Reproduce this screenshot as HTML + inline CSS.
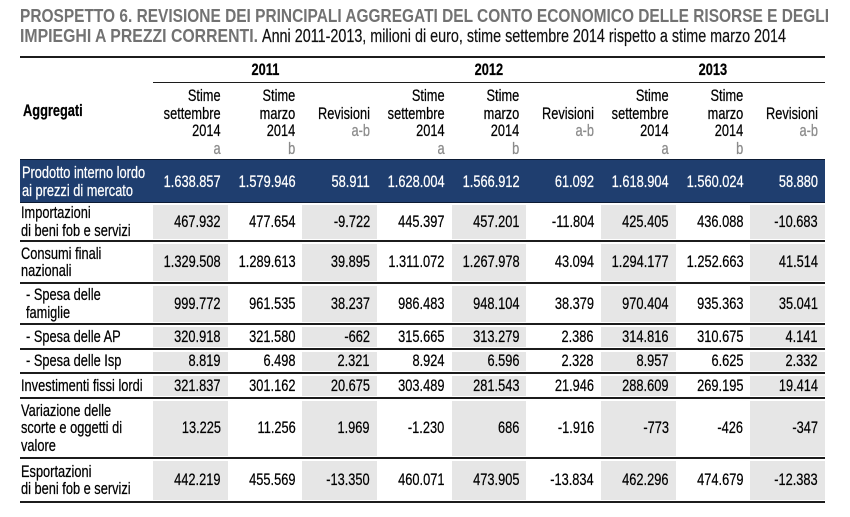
<!DOCTYPE html>
<html><head><meta charset="utf-8">
<style>
*{margin:0;padding:0;box-sizing:border-box}
body{width:850px;height:517px;background:#fff;position:relative;overflow:hidden;font-family:"Liberation Sans",Arial,sans-serif;font-size:17px;line-height:17.5px;color:#000}
.row{position:absolute;left:20px;width:805px;display:flex}
.lab{width:133px;flex:none;display:flex;align-items:center;padding-left:1px}
.sub{padding-left:6px}
.c{width:74.666px;flex:none;display:flex;align-items:center;justify-content:flex-end;padding-right:7px}
i{font-style:normal;display:inline-block;white-space:nowrap;transform:scaleX(.753);transform-origin:right center;text-align:right;-webkit-text-stroke:0.25px currentColor}
.lab i{transform-origin:left center;text-align:left}
.g{background:linear-gradient(#fff 0,#fff 2px,#e6e6e6 2px,#e6e6e6 calc(100% - 1px),#fff calc(100% - 1px))}
.hl{position:absolute;left:20px;width:805px;height:2px;background:#1c1c1c}
.blue{background:#1f3e6f;color:#fff}
.hd .c{align-items:flex-start;line-height:17.7px}
.gr{color:#8a8a8a}
.yr{width:224px;flex:none;display:flex;align-items:center;justify-content:center;font-weight:bold}
.yr i{transform-origin:center center}
</style></head><body>

<svg width="850" height="50" style="position:absolute;left:0;top:0" xmlns="http://www.w3.org/2000/svg">
<text x="20" y="22" font-family="Liberation Sans, Arial, sans-serif" font-weight="bold" font-size="18" fill="#727272" textLength="809" lengthAdjust="spacingAndGlyphs">PROSPETTO 6. REVISIONE DEI PRINCIPALI AGGREGATI DEL CONTO ECONOMICO DELLE RISORSE E DEGLI</text>
<text x="20" y="42" font-family="Liberation Sans, Arial, sans-serif" font-weight="bold" font-size="18" fill="#727272" textLength="238" lengthAdjust="spacingAndGlyphs">IMPIEGHI A PREZZI CORRENTI.</text>
<text x="262" y="42" font-family="Liberation Sans, Arial, sans-serif" font-size="18" fill="#111" stroke="#111" stroke-width="0.2" textLength="524" lengthAdjust="spacingAndGlyphs">Anni 2011-2013, milioni di euro, stime settembre 2014 rispetto a stime marzo 2014</text>
</svg>

<div class="hl" style="top:56px"></div>

<div class="row" style="top:58px;height:24px">
  <div class="lab"></div>
  <div class="yr"><i>2011</i></div>
  <div class="yr"><i>2012</i></div>
  <div class="yr"><i>2013</i></div>
</div>
<div style="position:absolute;left:153px;top:82px;width:672px;height:1px;background:#1c1c1c"></div>

<div style="position:absolute;left:23px;top:102px;font-weight:bold"><i style="transform-origin:left center">Aggregati</i></div>

<div class="row hd" style="top:87px;height:72px">
  <div class="lab"></div>
  <div class="c"><i>Stime<br>settembre<br>2014<br><span class="gr">a</span></i></div>
  <div class="c"><i>Stime<br>marzo<br>2014<br><span class="gr">b</span></i></div>
  <div class="c"><i>&nbsp;<br>Revisioni<br><span class="gr">a-b</span><br>&nbsp;</i></div>
  <div class="c"><i>Stime<br>settembre<br>2014<br><span class="gr">a</span></i></div>
  <div class="c"><i>Stime<br>marzo<br>2014<br><span class="gr">b</span></i></div>
  <div class="c"><i>&nbsp;<br>Revisioni<br><span class="gr">a-b</span><br>&nbsp;</i></div>
  <div class="c"><i>Stime<br>settembre<br>2014<br><span class="gr">a</span></i></div>
  <div class="c"><i>Stime<br>marzo<br>2014<br><span class="gr">b</span></i></div>
  <div class="c"><i>&nbsp;<br>Revisioni<br><span class="gr">a-b</span><br>&nbsp;</i></div>
</div>

<div class="row blue" style="top:160px;height:43px">
  <div class="lab" style="padding-left:2px"><i>Prodotto interno lordo<br>ai prezzi di mercato</i></div>
  <div class="c"><i>1.638.857</i></div>
  <div class="c"><i>1.579.946</i></div>
  <div class="c"><i>58.911</i></div>
  <div class="c"><i>1.628.004</i></div>
  <div class="c"><i>1.566.912</i></div>
  <div class="c"><i>61.092</i></div>
  <div class="c"><i>1.618.904</i></div>
  <div class="c"><i>1.560.024</i></div>
  <div class="c"><i>58.880</i></div>
</div>
<div style="position:absolute;left:20px;top:159px;width:805px;height:1px;background:#0c1a33"></div>
<div style="position:absolute;left:20px;top:202px;width:805px;height:1px;background:#0c1a33"></div>

<div class="row" style="top:203px;height:37px">
  <div class="lab"><i>Importazioni<br>di beni fob e servizi</i></div>
  <div class="c g"><i>467.932</i></div>
  <div class="c"><i>477.654</i></div>
  <div class="c g"><i>-9.722</i></div>
  <div class="c"><i>445.397</i></div>
  <div class="c g"><i>457.201</i></div>
  <div class="c"><i>-11.804</i></div>
  <div class="c g"><i>425.405</i></div>
  <div class="c"><i>436.088</i></div>
  <div class="c g"><i>-10.683</i></div>
</div>
<div class="hl" style="top:240px"></div>

<div class="row" style="top:242px;height:40px">
  <div class="lab"><i>Consumi finali<br>nazionali</i></div>
  <div class="c g"><i>1.329.508</i></div>
  <div class="c"><i>1.289.613</i></div>
  <div class="c g"><i>39.895</i></div>
  <div class="c"><i>1.311.072</i></div>
  <div class="c g"><i>1.267.978</i></div>
  <div class="c"><i>43.094</i></div>
  <div class="c g"><i>1.294.177</i></div>
  <div class="c"><i>1.252.663</i></div>
  <div class="c g"><i>41.514</i></div>
</div>
<div class="hl" style="top:282px"></div>

<div class="row" style="top:284px;height:39px">
  <div class="lab sub"><i>- Spesa delle<br>famiglie</i></div>
  <div class="c g"><i>999.772</i></div>
  <div class="c"><i>961.535</i></div>
  <div class="c g"><i>38.237</i></div>
  <div class="c"><i>986.483</i></div>
  <div class="c g"><i>948.104</i></div>
  <div class="c"><i>38.379</i></div>
  <div class="c g"><i>970.404</i></div>
  <div class="c"><i>935.363</i></div>
  <div class="c g"><i>35.041</i></div>
</div>
<div class="hl" style="top:323px"></div>

<div class="row" style="top:325px;height:23px">
  <div class="lab sub"><i>- Spesa delle AP</i></div>
  <div class="c g"><i>320.918</i></div>
  <div class="c"><i>321.580</i></div>
  <div class="c g"><i>-662</i></div>
  <div class="c"><i>315.665</i></div>
  <div class="c g"><i>313.279</i></div>
  <div class="c"><i>2.386</i></div>
  <div class="c g"><i>314.816</i></div>
  <div class="c"><i>310.675</i></div>
  <div class="c g"><i>4.141</i></div>
</div>
<div class="hl" style="top:348px"></div>

<div class="row" style="top:350px;height:22px">
  <div class="lab sub"><i>- Spesa delle Isp</i></div>
  <div class="c g"><i>8.819</i></div>
  <div class="c"><i>6.498</i></div>
  <div class="c g"><i>2.321</i></div>
  <div class="c"><i>8.924</i></div>
  <div class="c g"><i>6.596</i></div>
  <div class="c"><i>2.328</i></div>
  <div class="c g"><i>8.957</i></div>
  <div class="c"><i>6.625</i></div>
  <div class="c g"><i>2.332</i></div>
</div>
<div class="hl" style="top:372px"></div>

<div class="row" style="top:374px;height:23px">
  <div class="lab"><i>Investimenti fissi lordi</i></div>
  <div class="c g"><i>321.837</i></div>
  <div class="c"><i>301.162</i></div>
  <div class="c g"><i>20.675</i></div>
  <div class="c"><i>303.489</i></div>
  <div class="c g"><i>281.543</i></div>
  <div class="c"><i>21.946</i></div>
  <div class="c g"><i>288.609</i></div>
  <div class="c"><i>269.195</i></div>
  <div class="c g"><i>19.414</i></div>
</div>
<div class="hl" style="top:397px"></div>

<div class="row" style="top:399px;height:58px">
  <div class="lab"><i>Variazione delle<br>scorte e oggetti di<br>valore</i></div>
  <div class="c g"><i>13.225</i></div>
  <div class="c"><i>11.256</i></div>
  <div class="c g"><i>1.969</i></div>
  <div class="c"><i>-1.230</i></div>
  <div class="c g"><i>686</i></div>
  <div class="c"><i>-1.916</i></div>
  <div class="c g"><i>-773</i></div>
  <div class="c"><i>-426</i></div>
  <div class="c g"><i>-347</i></div>
</div>
<div class="hl" style="top:457px"></div>

<div class="row" style="top:459px;height:42px">
  <div class="lab"><i>Esportazioni<br>di beni fob e servizi</i></div>
  <div class="c g"><i>442.219</i></div>
  <div class="c"><i>455.569</i></div>
  <div class="c g"><i>-13.350</i></div>
  <div class="c"><i>460.071</i></div>
  <div class="c g"><i>473.905</i></div>
  <div class="c"><i>-13.834</i></div>
  <div class="c g"><i>462.296</i></div>
  <div class="c"><i>474.679</i></div>
  <div class="c g"><i>-12.383</i></div>
</div>
<div class="hl" style="top:501px"></div>

</body></html>
